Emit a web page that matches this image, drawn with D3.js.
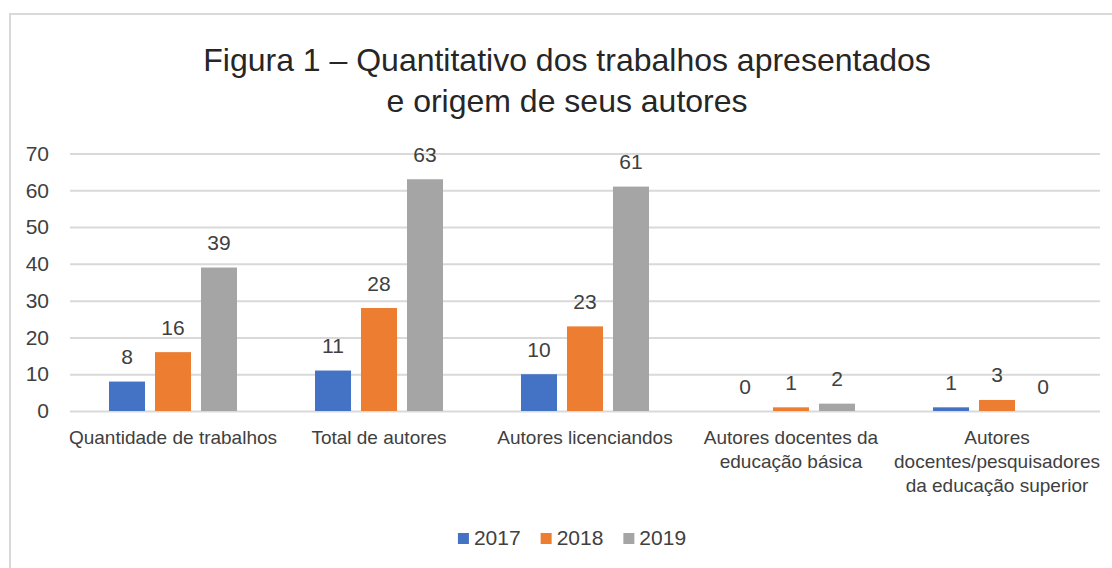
<!DOCTYPE html>
<html>
<head>
<meta charset="utf-8">
<script src="https://cdn.jsdelivr.net/npm/d3@7"></script>
<style>
  body { margin: 0; background: #fff; }
  svg { display: block; font-family: "Liberation Sans", Arial, sans-serif; }
</style>
</head>
<body>
<script>
// data
var categories = ["Quantidade de trabalhos", "Total de autores", "Autores licenciandos",
                  "Autores docentes da educação básica", "Autores docentes/pesquisadores da educação superior"];
var years = ["2017", "2018", "2019"];
var values2017 = [8, 11, 10, 0, 1];
var values2018 = [16, 28, 23, 1, 3];
var values2019 = [39, 63, 61, 2, 0];
var yTicks = [0, 10, 20, 30, 40, 50, 60, 70];
var colors = ["#4472C4", "#ED7D31", "#A5A5A5"];
var titleLines = ["Figura 1 – Quantitativo dos trabalhos apresentados", "e origem de seus autores"];

var width = 1112, height = 568;
var plotLeft = 70, plotRight = 1100, plotTop = 153.5, plotBottom = 411;

var svg = d3.select("body").append("svg")
    .attr("width", width)
    .attr("height", height);

// chart frame (only left + top edges visible in the crop)
svg.append("rect")
    .attr("x", 10).attr("y", 14)
    .attr("width", 1300).attr("height", 700)
    .attr("fill", "none")
    .attr("stroke", "#d9d9d9")
    .attr("stroke-width", 2);

// title
svg.append("text")
    .attr("x", 567)
    .attr("y", 71)
    .attr("text-anchor", "middle")
    .attr("fill", "#262626")
    .style("font-size", "32px")
    .selectAll("tspan")
    .data(titleLines)
    .enter()
    .append("tspan")
    .attr("x", 567)
    .attr("dy", function (d, i) { return i === 0 ? 0 : 41; })
    .text(function (d) { return d; });

// scales
var y = d3.scaleLinear().domain([0, 70]).range([plotBottom, plotTop]);
var x0 = d3.scaleBand().domain(categories).range([plotLeft, plotRight]).padding(0);
var x1 = d3.scaleBand().domain(years).paddingInner(0.217).paddingOuter(0).range([0, 128]);

// gridlines + y labels
var yAxis = svg.append("g")
    .attr("transform", "translate(" + plotLeft + ",0)")
    .call(d3.axisLeft(y).tickValues(yTicks).tickSize(-(plotRight - plotLeft)).tickPadding(21));
yAxis.select(".domain").remove();
yAxis.selectAll(".tick line").attr("stroke", "#d9d9d9").attr("stroke-width", 2);
yAxis.selectAll(".tick text")
    .attr("fill", "#404040")
    .style("font-size", "21px")
    .style("font-family", "Liberation Sans, Arial, sans-serif");

// bars
var series = [values2017, values2018, values2019];
var rows = categories.map(function (c, i) {
    return years.map(function (yr, j) { return { cat: c, year: yr, value: series[j][i], idx: j }; });
});

var groups = svg.selectAll(".group")
    .data(rows)
    .enter()
    .append("g")
    .attr("class", "group")
    .attr("transform", function (d) {
        var c = x0(d[0].cat) + x0.bandwidth() / 2;
        return "translate(" + (c - 64) + ",0)";
    });

groups.selectAll("rect")
    .data(function (d) { return d; })
    .enter()
    .append("rect")
    .attr("x", function (d) { return x1(d.year); })
    .attr("y", function (d) { return y(d.value); })
    .attr("width", x1.bandwidth())
    .attr("height", function (d) { return plotBottom - y(d.value); })
    .attr("fill", function (d) { return colors[d.idx]; });

// data labels
groups.selectAll(".val")
    .data(function (d) { return d; })
    .enter()
    .append("text")
    .attr("class", "val")
    .attr("x", function (d) { return x1(d.year) + x1.bandwidth() / 2; })
    .attr("y", function (d) { return y(d.value) - 17.5; })
    .attr("text-anchor", "middle")
    .attr("fill", "#404040")
    .style("font-size", "21px")
    .text(function (d) { return d.value; });

// category labels, wrapped to the band width
var catLabels = svg.selectAll(".cat")
    .data(categories)
    .enter()
    .append("text")
    .attr("class", "cat")
    .attr("text-anchor", "middle")
    .attr("fill", "#404040")
    .style("font-size", "19px")
    .attr("y", 444);

catLabels.each(function (d) {
    var el = d3.select(this);
    var cx = x0(d) + x0.bandwidth() / 2;
    var words = d.split(" ");
    var lines = [], line = [];
    var probe = el.append("tspan");
    words.forEach(function (w) {
        line.push(w);
        probe.text(line.join(" "));
        if (probe.node().getComputedTextLength() > x0.bandwidth() + 4 && line.length > 1) {
            line.pop();
            lines.push(line.join(" "));
            line = [w];
        }
    });
    lines.push(line.join(" "));
    probe.remove();
    el.selectAll("tspan")
        .data(lines)
        .enter()
        .append("tspan")
        .attr("x", cx)
        .attr("dy", function (l, i) { return i === 0 ? 0 : 24; })
        .text(function (l) { return l; });
});

// legend, centred under the plot
var legend = svg.append("g").attr("class", "legend");
var lx = 0;
years.forEach(function (yr, i) {
    var item = legend.append("g").attr("transform", "translate(" + lx + ",0)");
    item.append("rect")
        .attr("x", 0).attr("y", 533)
        .attr("width", 11).attr("height", 11)
        .attr("fill", colors[i]);
    var t = item.append("text")
        .attr("x", 16).attr("y", 545)
        .attr("fill", "#404040")
        .style("font-size", "21px")
        .text(yr);
    lx += 16 + t.node().getComputedTextLength() + 20;
});
var legendWidth = lx - 20;
legend.attr("transform", "translate(" + (572 - legendWidth / 2) + ",0)");
</script>
</body>
</html>
